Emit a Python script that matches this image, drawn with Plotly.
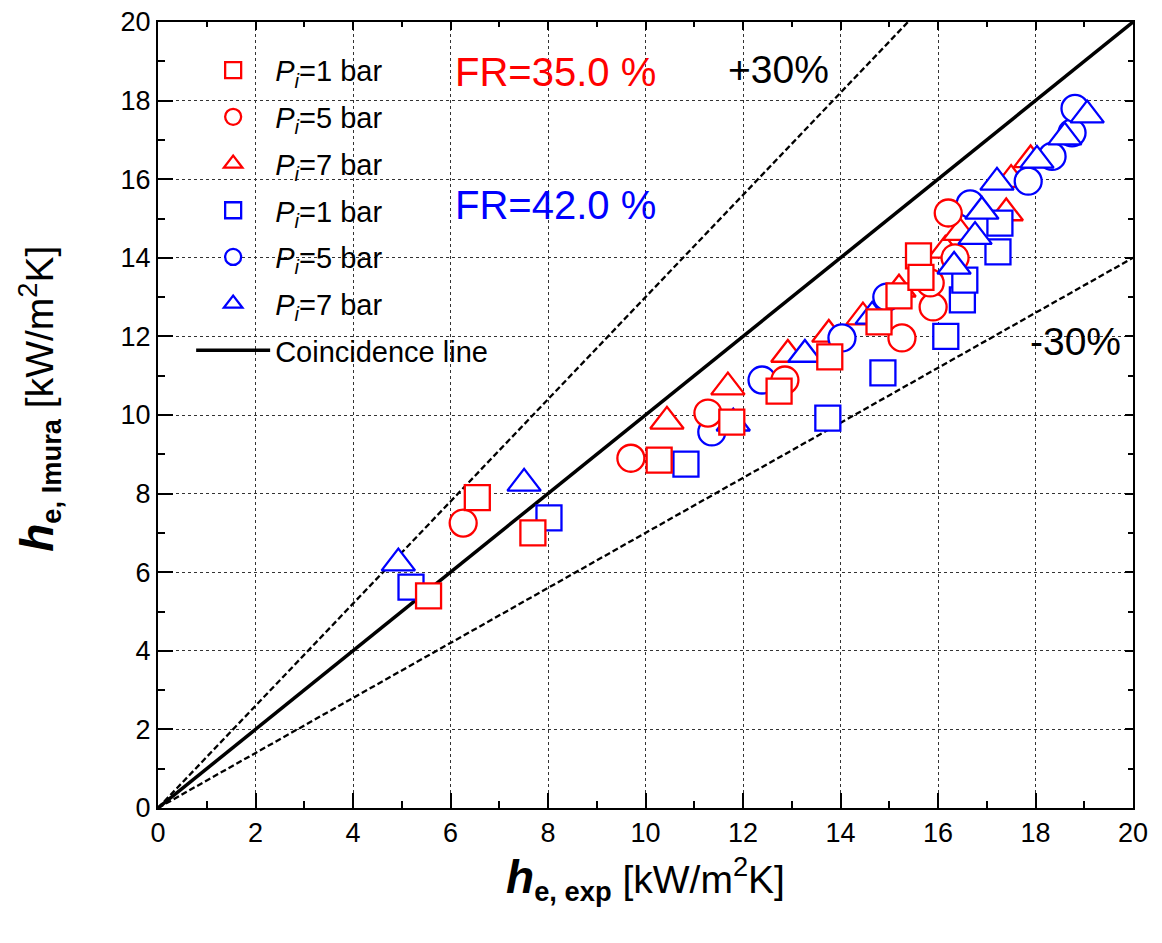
import plotly.graph_objects as go

# ---- data ----
# FR = 35.0 %
r_p1_x = [5.55, 6.55, 7.69, 10.28, 11.77, 12.74, 13.78, 14.79, 15.2, 15.6, 15.65]
r_p1_y = [5.4, 7.9, 7.0, 8.85, 9.82, 10.61, 11.48, 12.37, 13.03, 14.05, 13.5]
r_p5_x = [6.26, 9.7, 11.28, 12.86, 15.26, 15.9, 15.84, 16.35, 16.21]
r_p5_y = [7.25, 8.9, 10.05, 10.89, 11.96, 12.75, 13.36, 14.0, 15.14]
r_p7_x = [10.44, 11.69, 12.92, 13.76, 14.46, 15.2, 16.15, 16.45, 17.4, 17.5, 17.9]
r_p7_y = [9.84, 10.71, 11.54, 12.05, 12.49, 13.2, 14.19, 14.64, 15.14, 15.99, 16.49]
# FR = 42.0 %
b_p1_x = [5.19, 8.02, 10.83, 13.74, 14.87, 16.16, 16.5, 16.55, 17.23, 17.27]
b_p1_y = [5.62, 7.38, 8.75, 9.92, 11.07, 12.0, 12.93, 13.43, 14.15, 14.88]
b_p5_x = [11.36, 12.39, 14.03, 14.95, 16.66, 17.85, 18.34, 18.75, 18.81]
b_p5_y = [9.57, 10.89, 11.96, 13.0, 15.37, 15.95, 16.58, 17.18, 17.8]
b_p7_x = [4.93, 7.51, 11.8, 13.27, 14.65, 16.33, 16.76, 16.9, 17.21, 18.03, 18.6, 19.06]
b_p7_y = [6.23, 8.26, 9.79, 11.54, 12.51, 13.78, 14.54, 15.18, 15.92, 16.48, 17.07, 17.63]

line_x = [0, 20]
coincidence_y = [0, 20]
plus30_x = [0, 20 / 1.3]
plus30_y = [0, 20]
minus30_y = [0, 14]

tick_vals = [0, 2, 4, 6, 8, 10, 12, 14, 16, 18, 20]

RED = "#ff0000"
BLUE = "#0000ff"
FONT = "Liberation Sans"

fig = go.Figure()

# reference lines
fig.add_trace(go.Scatter(x=plus30_x, y=plus30_y, mode="lines",
                         line=dict(color="black", width=2.3, dash="6px,3px"),
                         showlegend=False, hoverinfo="skip"))
fig.add_trace(go.Scatter(x=line_x, y=minus30_y, mode="lines",
                         line=dict(color="black", width=2.3, dash="6px,3px"),
                         showlegend=False, hoverinfo="skip"))
fig.add_trace(go.Scatter(x=line_x, y=coincidence_y, mode="lines",
                         line=dict(color="black", width=3.5),
                         name="Coincidence line", legendrank=7,
                         legendgroup="g7"))

def add(x, y, color, symbol, size, label, rank):
    fig.add_trace(go.Scatter(
        x=x, y=y, mode="markers", name=label, legendrank=rank,
        legendgroup="g%d" % rank,
        marker=dict(symbol=symbol, size=size, color="white",
                    line=dict(color=color, width=2.3)),
    ))

# drawing order (as overlapping in reference); legend order via legendrank
add(r_p7_x, r_p7_y, RED, "triangle-up", 29, "<i>P<sub>i</sub></i>=7 bar", 3)
add(b_p1_x, b_p1_y, BLUE, "square", 25, "<i>P<sub>i</sub></i>=1 bar", 4)
add(b_p5_x, b_p5_y, BLUE, "circle", 27, "<i>P<sub>i</sub></i>=5 bar", 5)
add(r_p5_x, r_p5_y, RED, "circle", 27, "<i>P<sub>i</sub></i>=5 bar", 2)
add(b_p7_x, b_p7_y, BLUE, "triangle-up", 29, "<i>P<sub>i</sub></i>=7 bar", 6)
add(r_p1_x, r_p1_y, RED, "square", 25, "<i>P<sub>i</sub></i>=1 bar", 1)

axis_common = dict(
    range=[0, 20], tickvals=tick_vals, ticks="inside", ticklen=15, tickwidth=2,
    tickcolor="black", showline=True, linewidth=2, linecolor="black",
    mirror=True, showgrid=True, gridcolor="#333333", gridwidth=1,
    griddash="dot", zeroline=False, automargin=False,
    ticklabeloverflow="allow",
    minor=dict(dtick=1, ticks="inside", ticklen=7, tickwidth=2,
               tickcolor="black", showgrid=False),
    tickfont=dict(family=FONT, size=27, color="black"),
)

fig.update_xaxes(**axis_common,
                 title=dict(text="<span style='font-size:46px'><b><i>h</i></b></span>"
                                 "<sub><b>e, exp</b></sub> [kW/m<sup>2</sup>K]",
                            font=dict(family=FONT, size=39, color="black"),
                            standoff=18))
fig.update_yaxes(**axis_common,
                 title=dict(text="&nbsp;&nbsp;&nbsp;<span style='font-size:46px'><b><i>h</i></b></span>"
                                 "<sub><b>e, Imura</b></sub> [kW/m<sup>2</sup>K]",
                            font=dict(family=FONT, size=39, color="black"),
                            standoff=55))

# mirrored (shorter) ticks on top and right
mirror_common = dict(
    range=[0, 20], tickvals=tick_vals, ticks="inside", ticklen=8, tickwidth=2,
    tickcolor="black", showticklabels=False, showgrid=False, zeroline=False,
    showline=False, automargin=False,
    minor=dict(dtick=1, ticks="inside", ticklen=5, tickwidth=2,
               tickcolor="black", showgrid=False),
)
fig.update_layout(
    xaxis2=dict(**mirror_common, overlaying="x", side="top", anchor="y"),
    yaxis2=dict(**mirror_common, overlaying="y", side="right", anchor="x"),
)
# invisible carrier trace so the mirror axes are drawn
fig.add_trace(go.Scatter(x=line_x, y=coincidence_y, xaxis="x2", yaxis="y2",
                         mode="lines", line=dict(width=0), opacity=0,
                         showlegend=False, hoverinfo="skip"))

fig.add_annotation(x=6.05, y=18.73, text="FR=35.0 %", showarrow=False,
                   xanchor="left", yanchor="middle",
                   font=dict(family=FONT, size=40, color=RED))
fig.add_annotation(x=6.05, y=15.34, text="FR=42.0 %", showarrow=False,
                   xanchor="left", yanchor="middle",
                   font=dict(family=FONT, size=40, color=BLUE))
fig.add_annotation(x=11.65, y=18.8, text="+30%", showarrow=False,
                   xanchor="left", yanchor="middle",
                   font=dict(family=FONT, size=39, color="black"))
fig.add_annotation(x=17.85, y=11.88, text="-30%", showarrow=False,
                   xanchor="left", yanchor="middle",
                   font=dict(family=FONT, size=39, color="black"))

fig.update_layout(
    width=1162, height=943,
    margin=dict(l=150, r=37, t=14, b=143, autoexpand=False),
    paper_bgcolor="white", plot_bgcolor="white",
    font=dict(family=FONT, color="black"),
    legend=dict(x=0.034, y=0.971, xanchor="left", yanchor="top",
                bgcolor="rgba(0,0,0,0)", borderwidth=0,
                font=dict(family=FONT, size=29, color="black"),
                tracegroupgap=6, itemwidth=74),
    showlegend=True,
)

fig.write_html("out.html")
